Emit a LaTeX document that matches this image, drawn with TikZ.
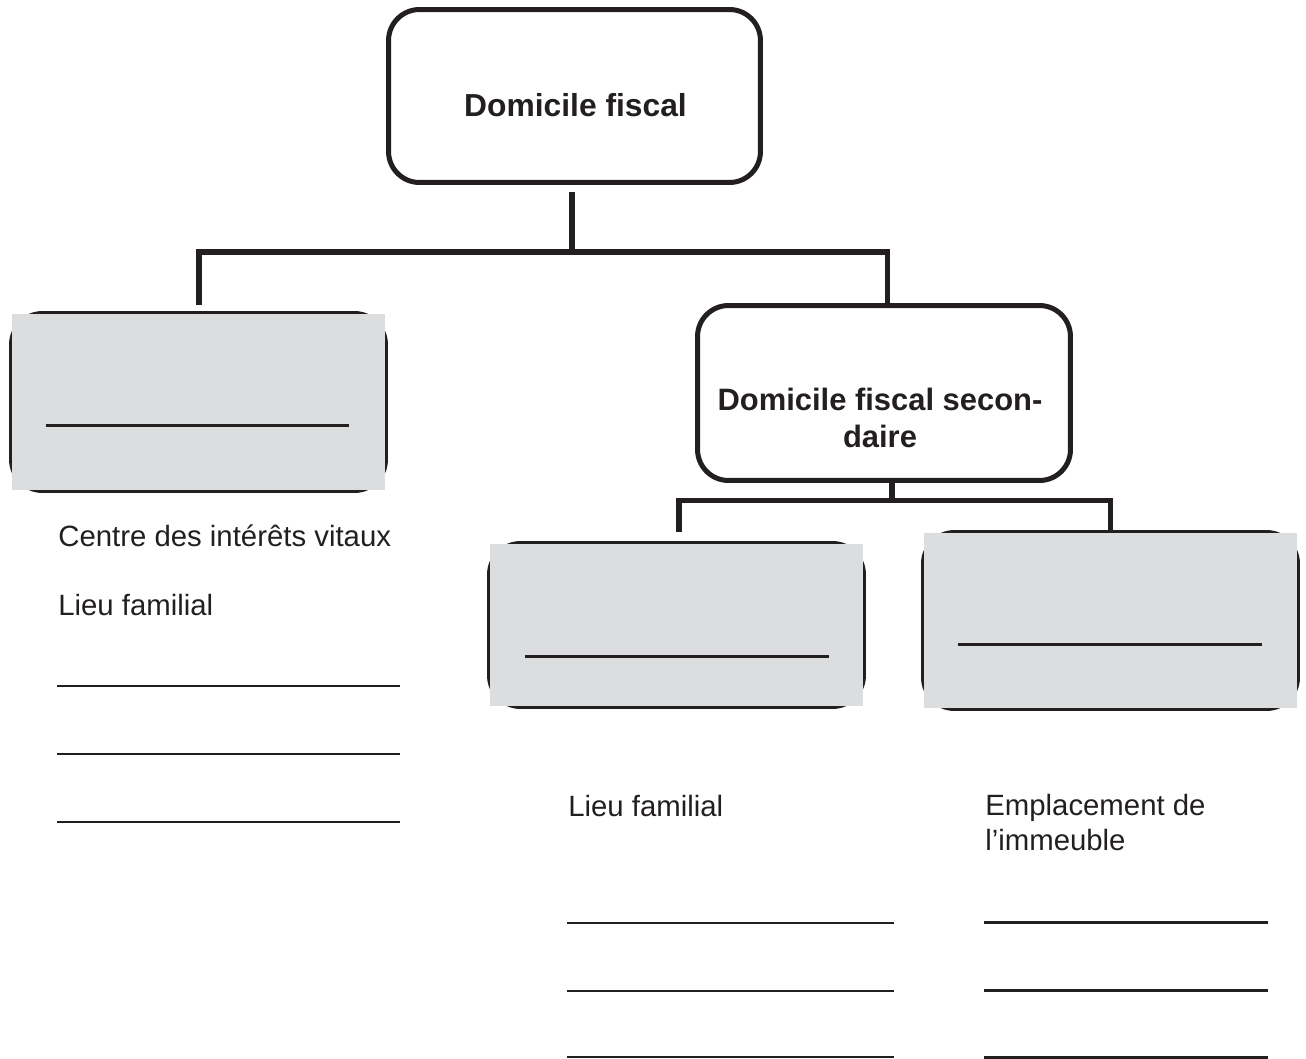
\documentclass[tikz,border=0pt]{standalone}
\usepackage{fontspec}
\setmainfont{Liberation Sans}
\usetikzlibrary{calc}
\definecolor{boxgray}{RGB}{220,221,223}
\definecolor{ink}{RGB}{35,31,32}

\begin{document}
\begin{tikzpicture}[x=0.02cm, y=-0.02cm,
		conn/.style={draw=ink, line width=0.11cm},
		whitebox/.style={draw=ink, line width=0.1cm, rounded corners=0.62cm, fill=white, inner sep=0pt},
		title/.style={font=\fontsize{17.6}{21}\selectfont\bfseries, text=ink, align=center, inner sep=0pt},
		body/.style={font=\fontsize{16.7}{20}\selectfont, text=ink, inner sep=0pt, anchor=base west},
		blank/.style={draw=ink, line width=0.04cm},
		inblank/.style={draw=ink, line width=0.06cm}]
		%%%%% START %%%%%
		\useasboundingbox (0,0) rectangle (1306,1059);
		
		\node[whitebox, minimum width=7.44cm, minimum height=3.46cm] (top) at (574.5,96) {};
		\node[title, font=\fontsize{18.1}{21}\selectfont\bfseries] (toptext) at (575.5,105) {Domicile fiscal};
		
		\node[whitebox, minimum width=7.46cm, minimum height=3.5cm] (sec) at (884,393) {};
		\node[title] (sectext) at (880,418) {Domicile fiscal secon-\\daire};
		
		\node[whitebox, minimum width=7.48cm, minimum height=3.54cm] (gl) at (198.5,402) {};
		\fill[boxgray] ([shift={(0.05cm,0.05cm)}]gl.south west) rectangle ([shift={(-0.05cm,-0.05cm)}]gl.north east);
		\draw[inblank] (46,425) -- (349,425);
		
		\node[whitebox, minimum width=7.48cm, minimum height=3.26cm] (gm) at (676.5,625) {};
		\fill[boxgray] ([shift={(0.05cm,0.05cm)}]gm.south west) rectangle ([shift={(-0.05cm,-0.05cm)}]gm.north east);
		\draw[inblank] (525,656) -- (829,656);
		
		\node[whitebox, minimum width=7.48cm, minimum height=3.52cm] (gr) at (1110.5,620.5) {};
		\fill[boxgray] ([shift={(0.05cm,0.05cm)}]gr.south west) rectangle ([shift={(-0.05cm,-0.05cm)}]gr.north east);
		\draw[inblank] (958,644) -- (1262,644);
		
		\coordinate (forkA) at (572,252);
		\draw[conn] ($(top.south -| forkA)+(0,7)$) -- (forkA);
		\draw[conn] ($(gl.north)+(0.5,-6.5)$) |- (forkA) -| ($(sec.north)+(3.5,0)$);
		
		\coordinate (forkB) at (892,500.7);
		\draw[conn] (sec.south -| forkB) -- (forkB);
		\draw[conn] ($(gm.north)+(2.5,-9.5)$) |- (forkB) -| (gr.north);
		
		\node[body] (cv) at (58,546) {Centre des intérêts vitaux};
		\node[body] (lf1) at (58,615) {Lieu familial};
		\foreach \y in {686,754,822} \draw[blank] (57,\y) -- (400,\y);
		
		\node[body] (lf2) at (568,816) {Lieu familial};
		\foreach \y in {923,991,1057} \draw[blank] (567,\y) -- (894,\y);
		
		\node[body] (emp) at (985,815) {Emplacement de};
		\node[body] (imm) at (985,850) {l’immeuble};
		\foreach \y in {922,990,1057} \draw[inblank] (984,\y) -- (1268,\y);
		%%%%% END %%%%%
	\end{tikzpicture}
\end{document}
